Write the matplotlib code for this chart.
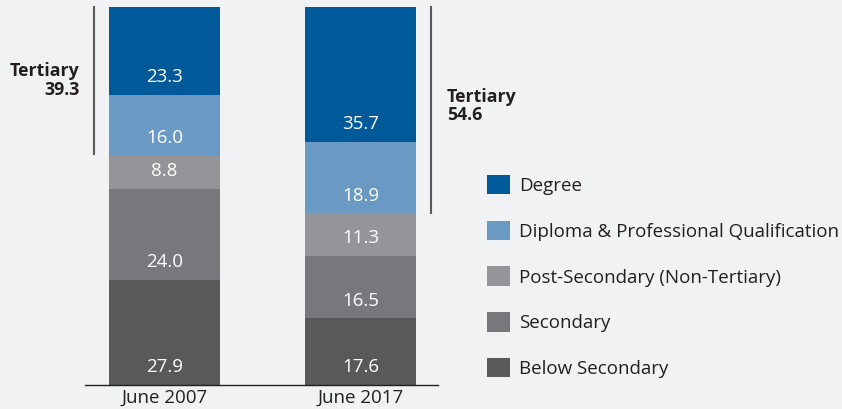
import matplotlib
matplotlib.use("Agg")
import matplotlib.pyplot as plt
from matplotlib.patches import Patch

plt.rcParams['font.family'] = ['Open Sans', 'DejaVu Sans']

categories = ["June 2007", "June 2017"]
series_names = ["Below Secondary", "Secondary", "Post-Secondary (Non-Tertiary)",
                "Diploma & Professional Qualification", "Degree"]
below_secondary = [27.9, 17.6]
secondary = [24.0, 16.5]
post_secondary = [8.8, 11.3]
diploma = [16.0, 18.9]
degree = [23.3, 35.7]
tertiary_totals = [39.3, 54.6]

colors = ["#58595b", "#77787b", "#939598", "#6a9ac4", "#005a9a"]
bg = "#f1f2f4"
text_c = "#231f20"

series = [below_secondary, secondary, post_secondary, diploma, degree]

fig = plt.figure(figsize=(8.42, 4.09), dpi=100, facecolor=bg)
ax = fig.add_axes([85/842, (409-385)/409, (438-85)/842, 378/409])
ax.set_facecolor(bg)

x = [0, 1]
width = 0.566
bottoms = [0.0, 0.0]
for vals, col in zip(series, colors):
    ax.bar(x, vals, width, bottom=bottoms, color=col, edgecolor='none')
    for xi, v, b in zip(x, vals, bottoms):
        ax.annotate(f"{v:.1f}", (xi, b), xytext=(0, 12.8), textcoords='offset points',
                    ha='center', va='center', color='white', fontsize=13.5)
    bottoms = [b + v for b, v in zip(bottoms, vals)]

ax.set_xlim(-0.406, 1.395)
ax.set_ylim(0, 100)
for s in ['top', 'right', 'left']:
    ax.spines[s].set_visible(False)
ax.spines['bottom'].set_color(text_c)
ax.spines['bottom'].set_linewidth(1.0)
ax.set_yticks([])
ax.set_xticks(x)
ax.set_xticklabels(categories, fontsize=13.5, color=text_c)
ax.tick_params(axis='x', length=0, pad=2.5)

# Tertiary brackets
tert_bottom = [below_secondary[i] + secondary[i] + post_secondary[i] for i in range(2)]
ax.plot([-0.36, -0.36], [tert_bottom[0] + 0.5, 100], color="#58595b", lw=1.5, clip_on=False)
ax.plot([1.36, 1.36], [tert_bottom[1], 100], color="#58595b", lw=1.5, clip_on=False)
ax.text(-0.433, 80.6, f"Tertiary\n{tertiary_totals[0]}", ha='right', va='center',
        fontsize=12.8, fontweight='bold', color=text_c, linespacing=1.03)
ax.text(1.44, 73.8, f"Tertiary\n{tertiary_totals[1]}", ha='left', va='center',
        fontsize=12.8, fontweight='bold', color=text_c, linespacing=1.03)

handles = [Patch(facecolor=c, edgecolor='none', label=n) for c, n in zip(colors, series_names)]
handles = handles[::-1]
fig.legend(handles=handles, loc='upper left', bbox_to_anchor=(487/842, (409-175)/409),
           frameon=False, fontsize=13.5, handlelength=1.22, handleheight=1.22,
           handletextpad=0.5, labelspacing=1.37, borderpad=0, borderaxespad=0,
           labelcolor=text_c)

fig.savefig("out.png", dpi=100, facecolor=bg)
